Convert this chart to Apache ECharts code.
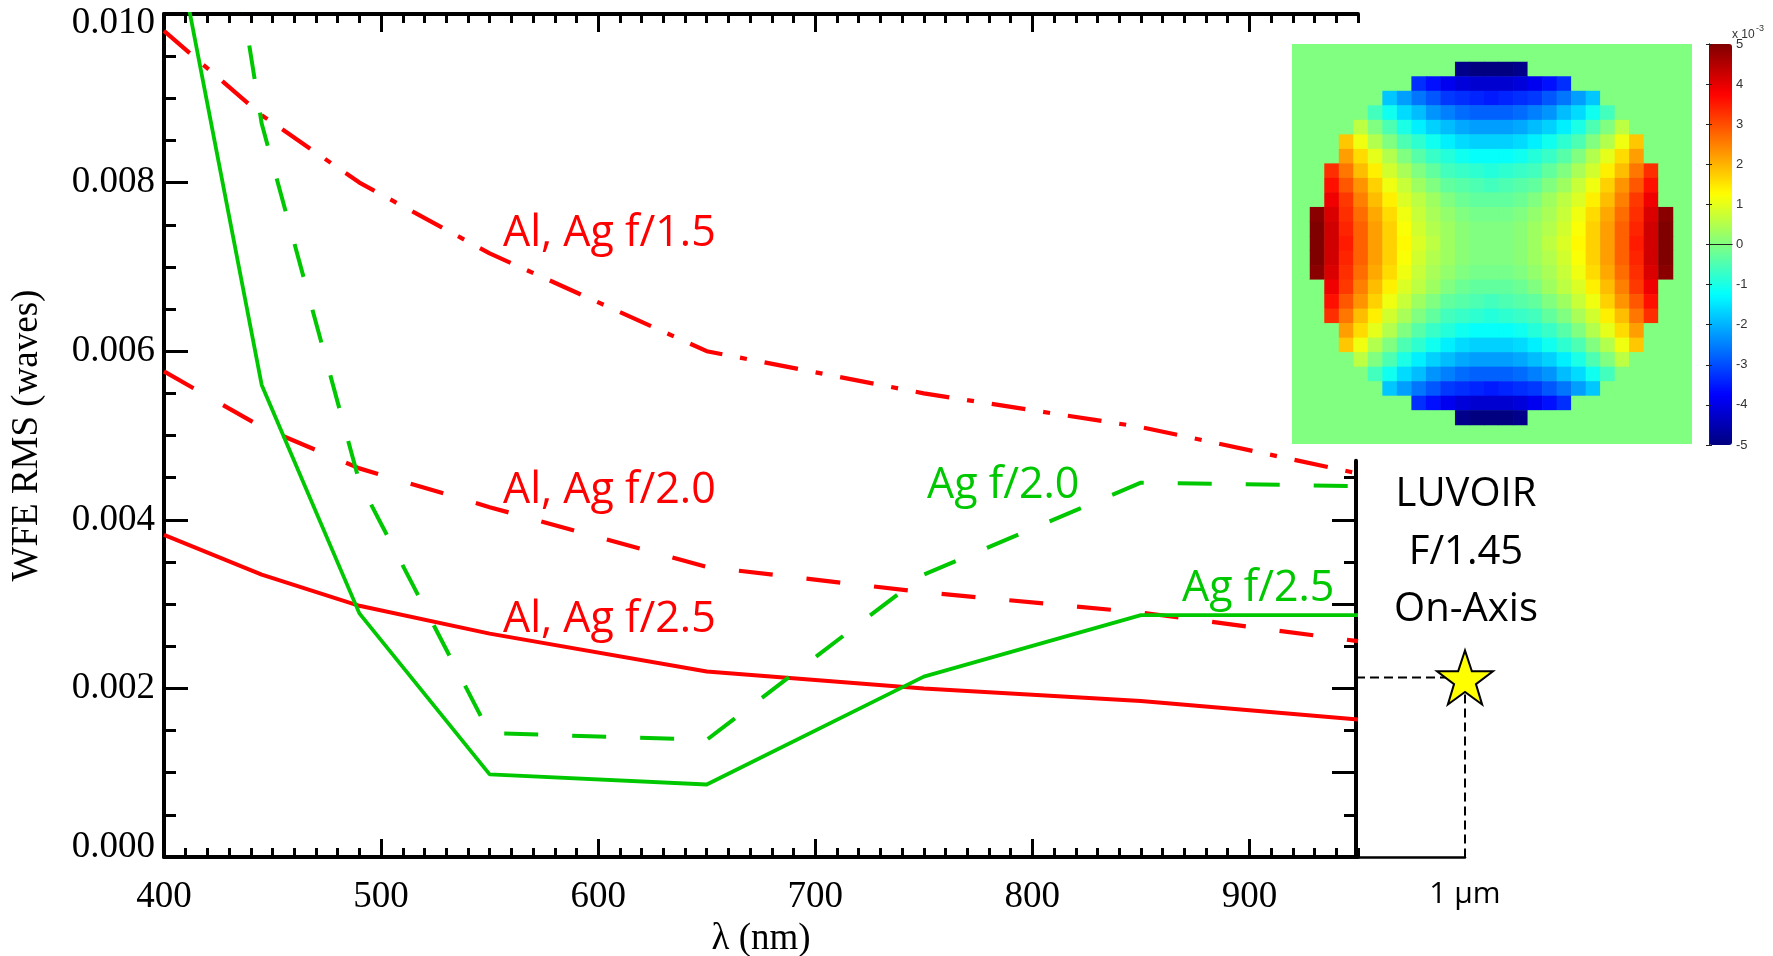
<!DOCTYPE html>
<html>
<head>
<meta charset="utf-8">
<script src="https://cdn.jsdelivr.net/npm/echarts@6/dist/echarts.min.js"></script>
<style>
html,body{margin:0;padding:0;background:#ffffff;}
#chart{width:1773px;height:956px;}
</style>
</head>
<body>
<div id="chart"></div>
<script>
// ---------------- data ----------------
const wavelengths = [400, 445, 490, 550, 650, 750, 850, 950];
const alAgF15 = [0.0098, 0.0088, 0.0080, 0.00716, 0.0060, 0.0055, 0.0051, 0.00455];
const alAgF20 = [0.00576, 0.0051, 0.00461, 0.00415, 0.00344, 0.00314, 0.0029, 0.00256];
const alAgF25 = [0.00382, 0.00335, 0.00298, 0.00265, 0.0022, 0.0020, 0.00185, 0.00163];
const agF20 = [0.0160, 0.0087, 0.00445, 0.00147, 0.00139, 0.00335, 0.00444, 0.0044];
const agF25 = [0.0116, 0.0056, 0.00289, 0.00098, 0.00086, 0.00214, 0.00287, 0.00287];
const xMajorTicks = [400, 500, 600, 700, 800, 900];
const luvoirPoint = [1000, 0.00213];
const luvoirLabel = '1 µm';
const seriesLabels = ['Al, Ag f/1.5', 'Al, Ag f/2.0', 'Al, Ag f/2.5', 'Ag f/2.0', 'Ag f/2.5'];
const luvoirText = ['LUVOIR', 'F/1.45', 'On-Axis'];
// wavefront map (units of 1e-3 waves), rows top to bottom
const wavefrontRows = [
 [0,0,0,0,0,0,0,0,0,0,-4.9,-5,-5,-5,-4.9,0,0,0,0,0,0,0,0,0,0],
 [0,0,0,0,0,0,0,-3.3,-3.6,-3.9,-4.1,-4.2,-4.2,-4.2,-4.1,-3.9,-3.6,-3.3,0,0,0,0,0,0,0],
 [0,0,0,0,0,-1.8,-2.2,-2.6,-2.9,-3.2,-3.3,-3.4,-3.5,-3.4,-3.3,-3.2,-2.9,-2.6,-2.2,-1.8,0,0,0,0,0],
 [0,0,0,0,-0.6,-1.1,-1.6,-1.9,-2.3,-2.5,-2.7,-2.8,-2.8,-2.8,-2.7,-2.5,-2.3,-1.9,-1.6,-1.1,-0.6,0,0,0,0],
 [0,0,0,0.6,0,-0.5,-1,-1.4,-1.7,-1.9,-2.1,-2.2,-2.2,-2.2,-2.1,-1.9,-1.7,-1.4,-1,-0.5,0,0.6,0,0,0],
 [0,0,1.8,1.1,0.5,0,-0.5,-0.8,-1.1,-1.4,-1.6,-1.7,-1.7,-1.7,-1.6,-1.4,-1.1,-0.8,-0.5,0,0.5,1.1,1.8,0,0],
 [0,0,2.2,1.6,1,0.5,0,-0.4,-0.7,-0.9,-1.1,-1.2,-1.2,-1.2,-1.1,-0.9,-0.7,-0.4,0,0.5,1,1.6,2.2,0,0],
 [0,3.3,2.6,1.9,1.4,0.8,0.4,0,-0.3,-0.6,-0.7,-0.8,-0.9,-0.8,-0.7,-0.6,-0.3,0,0.4,0.8,1.4,1.9,2.6,3.3,0],
 [0,3.6,2.9,2.3,1.7,1.1,0.7,0.3,0,-0.3,-0.4,-0.5,-0.6,-0.5,-0.4,-0.3,0,0.3,0.7,1.1,1.7,2.3,2.9,3.6,0],
 [0,3.9,3.2,2.5,1.9,1.4,0.9,0.6,0.3,0,-0.2,-0.3,-0.3,-0.3,-0.2,0,0.3,0.6,0.9,1.4,1.9,2.5,3.2,3.9,0],
 [4.9,4.1,3.3,2.7,2.1,1.6,1.1,0.7,0.4,0.2,0,-0.1,-0.1,-0.1,0,0.2,0.4,0.7,1.1,1.6,2.1,2.7,3.3,4.1,4.9],
 [5,4.2,3.4,2.8,2.2,1.7,1.2,0.8,0.5,0.3,0.1,0,0,0,0.1,0.3,0.5,0.8,1.2,1.7,2.2,2.8,3.4,4.2,5],
 [5,4.2,3.5,2.8,2.2,1.7,1.3,0.9,0.6,0.3,0.1,0,0,0,0.1,0.3,0.6,0.9,1.3,1.7,2.2,2.8,3.5,4.2,5],
 [5,4.2,3.4,2.8,2.2,1.7,1.2,0.8,0.5,0.3,0.1,0,0,0,0.1,0.3,0.5,0.8,1.2,1.7,2.2,2.8,3.4,4.2,5],
 [4.9,4.1,3.3,2.7,2.1,1.6,1.1,0.7,0.4,0.2,0,-0.1,-0.1,-0.1,0,0.2,0.4,0.7,1.1,1.6,2.1,2.7,3.3,4.1,4.9],
 [0,3.9,3.2,2.5,1.9,1.4,0.9,0.6,0.3,0,-0.2,-0.3,-0.3,-0.3,-0.2,0,0.3,0.6,0.9,1.4,1.9,2.5,3.2,3.9,0],
 [0,3.6,2.9,2.3,1.7,1.1,0.7,0.3,0,-0.3,-0.4,-0.5,-0.6,-0.5,-0.4,-0.3,0,0.3,0.7,1.1,1.7,2.3,2.9,3.6,0],
 [0,3.3,2.6,1.9,1.4,0.8,0.4,0,-0.3,-0.6,-0.7,-0.8,-0.9,-0.8,-0.7,-0.6,-0.3,0,0.4,0.8,1.4,1.9,2.6,3.3,0],
 [0,0,2.2,1.6,1,0.5,0,-0.4,-0.7,-0.9,-1.1,-1.2,-1.2,-1.2,-1.1,-0.9,-0.7,-0.4,0,0.5,1,1.6,2.2,0,0],
 [0,0,1.8,1.1,0.5,0,-0.5,-0.8,-1.1,-1.4,-1.6,-1.7,-1.7,-1.7,-1.6,-1.4,-1.1,-0.8,-0.5,0,0.5,1.1,1.8,0,0],
 [0,0,0,0.6,0,-0.5,-1,-1.4,-1.7,-1.9,-2.1,-2.2,-2.2,-2.2,-2.1,-1.9,-1.7,-1.4,-1,-0.5,0,0.6,0,0,0],
 [0,0,0,0,-0.6,-1.1,-1.6,-1.9,-2.3,-2.5,-2.7,-2.8,-2.8,-2.8,-2.7,-2.5,-2.3,-1.9,-1.6,-1.1,-0.6,0,0,0,0],
 [0,0,0,0,0,-1.8,-2.2,-2.6,-2.9,-3.2,-3.3,-3.4,-3.5,-3.4,-3.3,-3.2,-2.9,-2.6,-2.2,-1.8,0,0,0,0,0],
 [0,0,0,0,0,0,0,-3.3,-3.6,-3.9,-4.1,-4.2,-4.2,-4.2,-4.1,-3.9,-3.6,-3.3,0,0,0,0,0,0,0],
 [0,0,0,0,0,0,0,0,0,0,-4.9,-5,-5,-5,-4.9,0,0,0,0,0,0,0,0,0,0]
];
const colorbarRange = [-5, 5];

// ---------------- build ----------------
const SERIF = '"Liberation Serif", "Times New Roman", serif';
const SANS = '"Open Sans", sans-serif';
const RED = '#ff0000';
const GREEN = '#00c800';
const jet = ['#000080','#0000ff','#0080ff','#00ffff','#80ff80','#ffff00','#ff8000','#ff0000','#800000'];

const pairs = vals => wavelengths.map((w, i) => [w, vals[i]]);
const cellIdx = wavefrontRows[0].map((_, i) => String(i));
const heatData = [];
wavefrontRows.forEach((row, r) => row.forEach((v, c) => heatData.push([c, r, v])));

const blackLine = w => ({ lineStyle: { color: '#000', width: w } });
const noAxisParts = { axisLine: { show: false }, axisLabel: { show: false }, splitLine: { show: false } };
const G = o => Object.assign({ outerBoundsMode: 'none', containLabel: false }, o);

const chart = echarts.init(document.getElementById('chart'), null, { renderer: 'canvas' });

const option = {
  animation: false,
  backgroundColor: '#ffffff',
  grid: [
    G({ left: 164, top: 14, width: 1194, height: 843 }),            // 0 main
    G({ left: 1356, top: 460.8, width: 109, height: 396.2 }),         // 1 inset line (0..0.0047)
    G({ left: 1356, top: 477.65, width: 109, height: 379.35 }),       // 2 inset short ticks (0..0.0045)
    G({ left: 1356, top: 519.8, width: 109, height: 337.2 }),         // 3 inset long ticks (0..0.004)
    G({ left: 1310, top: 62, width: 363, height: 363 }),              // 4 wavefront map
    G({ left: 1709, top: 44, width: 23, height: 401 })                // 5 colorbar frame
  ],
  xAxis: [
    { // 0 bottom major
      gridIndex: 0, type: 'value', min: 400, max: 950, interval: 100, position: 'bottom',
      axisLine: blackLine(4),
      axisTick: { inside: true, length: 18, lineStyle: { color: '#000', width: 3 }, customValues: xMajorTicks },
      axisLabel: { customValues: xMajorTicks, formatter: v => (v > 900 ? '' : String(v)),
        fontFamily: SERIF, fontSize: 37, color: '#000', margin: 22 },
      splitLine: { show: false },
      name: 'λ (nm)', nameLocation: 'middle', nameGap: 60,
      nameTextStyle: { fontFamily: SERIF, fontSize: 37, color: '#000' }
    },
    { // 1 bottom minor
      gridIndex: 0, type: 'value', min: 400, max: 950, interval: 10, position: 'bottom',
      axisTick: { inside: true, length: 9, lineStyle: { color: '#000', width: 3 } }, ...noAxisParts
    },
    { // 2 top major
      gridIndex: 0, type: 'value', min: 400, max: 950, interval: 100, position: 'top',
      axisLine: blackLine(4),
      axisTick: { inside: true, length: 18, lineStyle: { color: '#000', width: 3 }, customValues: xMajorTicks },
      axisLabel: { show: false }, splitLine: { show: false }
    },
    { // 3 top minor
      gridIndex: 0, type: 'value', min: 400, max: 950, interval: 10, position: 'top',
      axisTick: { inside: true, length: 9, lineStyle: { color: '#000', width: 3 } }, ...noAxisParts
    },
    { // 4 inset x (1 µm)
      gridIndex: 1, type: 'value', min: 950, max: 1000, interval: 50, position: 'bottom',
      axisLine: blackLine(2.5), axisTick: { show: false }, splitLine: { show: false },
      axisLabel: { formatter: v => (v === luvoirPoint[0] ? luvoirLabel : ''), showMaxLabel: true,
        fontFamily: SANS, fontSize: 30, color: '#000', margin: 22 }
    },
    { gridIndex: 2, type: 'value', min: 950, max: 1000, show: false },   // 5
    { gridIndex: 3, type: 'value', min: 950, max: 1000, show: false },   // 6
    { gridIndex: 4, type: 'category', data: cellIdx, show: false },      // 7
    { // 8 colorbar bottom edge
      gridIndex: 5, type: 'value', min: 0, max: 1, position: 'bottom', z: 10,
      axisLine: { lineStyle: { color: '#222', width: 1 } }, axisTick: { show: false },
      axisLabel: { show: false }, splitLine: { show: false }
    },
    { // 9 colorbar top edge
      gridIndex: 5, type: 'value', min: 0, max: 1, position: 'top', z: 10,
      axisLine: { lineStyle: { color: '#222', width: 1 } }, axisTick: { show: false },
      axisLabel: { show: false }, splitLine: { show: false }
    }
  ],
  yAxis: [
    { // 0 left major
      gridIndex: 0, type: 'value', min: 0, max: 0.010, interval: 0.002, position: 'left',
      axisLine: blackLine(4),
      axisTick: { inside: true, length: 24, lineStyle: { color: '#000', width: 3 } },
      axisLabel: {
        margin: 9,
        formatter: v => {
          const s = v.toFixed(3);
          if (v === 0) return '{lo|' + s + '}';
          if (v > 0.0099) return '{hi|' + s + '}';
          return '{n|' + s + '}';
        },
        rich: {
          n: { fontFamily: SERIF, fontSize: 37, color: '#000' },
          lo: { fontFamily: SERIF, fontSize: 37, color: '#000', padding: [0, 0, 19, 0] },
          hi: { fontFamily: SERIF, fontSize: 37, color: '#000', padding: [19, 0, 0, 0] }
        }
      },
      splitLine: { show: false },
      name: 'WFE RMS (waves)', nameLocation: 'middle', nameGap: 118, nameRotate: 90,
      nameTextStyle: { fontFamily: SERIF, fontSize: 37, color: '#000' }
    },
    { // 1 left minor
      gridIndex: 0, type: 'value', min: 0, max: 0.010, interval: 0.0005, position: 'left',
      axisTick: { inside: true, length: 12, lineStyle: { color: '#000', width: 3 } }, ...noAxisParts
    },
    { // 2 inset axis line
      gridIndex: 1, type: 'value', min: 0, max: 0.0047, position: 'left',
      axisLine: blackLine(4), axisTick: { show: false }, axisLabel: { show: false }, splitLine: { show: false }
    },
    { // 3 inset short ticks
      gridIndex: 2, type: 'value', min: 0, max: 0.0045, interval: 0.0005, position: 'left',
      axisTick: { inside: false, length: 12, lineStyle: { color: '#000', width: 3 } }, ...noAxisParts
    },
    { // 4 inset long ticks
      gridIndex: 3, type: 'value', min: 0, max: 0.004, interval: 0.001, position: 'left',
      axisTick: { inside: false, length: 24, lineStyle: { color: '#000', width: 3 } }, ...noAxisParts
    },
    { gridIndex: 4, type: 'category', data: cellIdx, inverse: true, show: false },   // 5
    { // 6 colorbar left
      gridIndex: 5, type: 'value', min: colorbarRange[0], max: colorbarRange[1], interval: 1, position: 'left', z: 10,
      axisLine: { lineStyle: { color: '#222', width: 1 } },
      axisTick: { inside: true, length: 3, lineStyle: { color: '#222', width: 1 } },
      axisLabel: { show: false }, splitLine: { show: false }
    },
    { // 7 colorbar right
      gridIndex: 5, type: 'value', min: colorbarRange[0], max: colorbarRange[1], interval: 1, position: 'right', z: 10,
      axisLine: { lineStyle: { color: '#222', width: 1 } },
      axisTick: { inside: true, length: 3, lineStyle: { color: '#222', width: 1 } },
      axisLabel: { margin: 4, fontFamily: '"Liberation Sans", Arial, sans-serif', fontSize: 13, color: '#333' },
      splitLine: { show: false }
    }
  ],
  visualMap: {
    type: 'continuous', seriesIndex: 7, min: colorbarRange[0], max: colorbarRange[1],
    inRange: { color: jet }, calculable: false, hoverLink: false, realtime: false,
    orient: 'vertical', left: 1709, top: 44, itemWidth: 23, itemHeight: 401, padding: 0,
    show: true
  },
  series: [
    { type: 'line', name: seriesLabels[0], xAxisIndex: 0, yAxisIndex: 0, data: pairs(alAgF15), symbol: 'none',
      lineStyle: { color: RED, width: 4.2, type: [34, 18, 7, 18] }, z: 3 },
    { type: 'line', name: seriesLabels[1], xAxisIndex: 0, yAxisIndex: 0, data: pairs(alAgF20), symbol: 'none',
      lineStyle: { color: RED, width: 4.2, type: [34, 34] }, z: 3 },
    { type: 'line', name: seriesLabels[2], xAxisIndex: 0, yAxisIndex: 0, data: pairs(alAgF25), symbol: 'none',
      lineStyle: { color: RED, width: 4 }, z: 3 },
    { type: 'line', name: seriesLabels[3], xAxisIndex: 0, yAxisIndex: 0, data: pairs(agF20), symbol: 'none',
      lineStyle: { color: GREEN, width: 4, type: [34, 34] }, z: 4 },
    { type: 'line', name: seriesLabels[4], xAxisIndex: 0, yAxisIndex: 0, data: pairs(agF25), symbol: 'none',
      lineStyle: { color: GREEN, width: 3.8 }, z: 4 },
    { type: 'line', xAxisIndex: 4, yAxisIndex: 2, symbol: 'none', clip: false, z: 3,
      data: [[wavelengths[wavelengths.length - 1], luvoirPoint[1]], luvoirPoint, [luvoirPoint[0], 0]],
      lineStyle: { color: '#000', width: 2, type: [9, 5] } },
    { type: 'scatter', xAxisIndex: 4, yAxisIndex: 2, clip: false, z: 6,
      data: [luvoirPoint],
      symbol: 'path://M50,0 L61.8,35.1 L98.1,35.1 L68.8,56.8 L79.4,91 L50,70 L20.6,91 L31.2,56.8 L1.9,35.1 L38.2,35.1 Z',
      symbolSize: [56, 54],
      itemStyle: { color: '#ffff00', borderColor: '#000', borderWidth: 2, opacity: 1 } },
    { type: 'heatmap', xAxisIndex: 7, yAxisIndex: 5, data: heatData, z: 2,
      itemStyle: { borderWidth: 0 }, emphasis: { disabled: true } }
  ],
  graphic: [
    { type: 'rect', z: -1, silent: true, shape: { x: 1292, y: 44, width: 400, height: 400 }, style: { fill: '#80ff80' } },
    { type: 'text', x: 503, y: 234, style: { text: seriesLabels[0], fill: RED, font: '43px "Open Sans"', align: 'left', verticalAlign: 'middle' } },
    { type: 'text', x: 503, y: 491, style: { text: seriesLabels[1], fill: RED, font: '43px "Open Sans"', align: 'left', verticalAlign: 'middle' } },
    { type: 'text', x: 503, y: 620, style: { text: seriesLabels[2], fill: RED, font: '43px "Open Sans"', align: 'left', verticalAlign: 'middle' } },
    { type: 'text', x: 927, y: 486, style: { text: seriesLabels[3], fill: GREEN, font: '43px "Open Sans"', align: 'left', verticalAlign: 'middle' } },
    { type: 'text', x: 1182, y: 589, style: { text: seriesLabels[4], fill: GREEN, font: '43px "Open Sans"', align: 'left', verticalAlign: 'middle' } },
    { type: 'text', x: 1466, y: 495, style: { text: luvoirText[0], fill: '#000', font: '40px "Open Sans"', align: 'center', verticalAlign: 'middle' } },
    { type: 'text', x: 1466, y: 553, style: { text: luvoirText[1], fill: '#000', font: '40px "Open Sans"', align: 'center', verticalAlign: 'middle' } },
    { type: 'text', x: 1466, y: 610, style: { text: luvoirText[2], fill: '#000', font: '40px "Open Sans"', align: 'center', verticalAlign: 'middle' } },
    { type: 'text', x: 1732, y: 35, style: { text: 'x 10', fill: '#333', font: '12px "Liberation Sans"', align: 'left', verticalAlign: 'middle' } },
    { type: 'text', x: 1756, y: 29, style: { text: '-3', fill: '#333', font: '9px "Liberation Sans"', align: 'left', verticalAlign: 'middle' } }
  ]
};
chart.setOption(option);
</script>
</body>
</html>
